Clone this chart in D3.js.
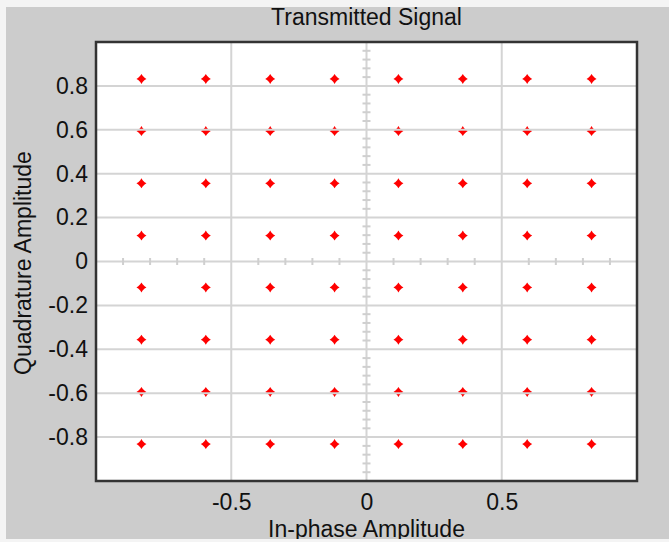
<!DOCTYPE html>
<html>
<head>
<meta charset="utf-8">
<script src="https://cdn.jsdelivr.net/npm/d3@7"></script>
<style>
  html, body { margin: 0; padding: 0; background: #f4f4f4; }
  svg { display: block; }
</style>
</head>
<body>
<svg id="chart" width="669" height="542"></svg>
<script>
// ---- data ----
const title = "Transmitted Signal";
const xLabel = "In-phase Amplitude";
const yLabel = "Quadrature Amplitude";
const inPhaseLevels = [-0.832, -0.594, -0.356, -0.118, 0.118, 0.356, 0.594, 0.832];
const quadratureLevels = [0.832, 0.594, 0.356, 0.118, -0.118, -0.356, -0.594, -0.832];
const xTicks = [-0.5, 0, 0.5];
const yTicks = [-0.8, -0.6, -0.4, -0.2, 0, 0.2, 0.4, 0.6, 0.8];
const xMinorTicks = [-0.9, -0.8, -0.7, -0.6, -0.4, -0.3, -0.2, -0.1, 0.1, 0.2, 0.3, 0.4, 0.6, 0.7, 0.8, 0.9];
const yMinorTicks = [-0.96, -0.92, -0.88, -0.84, -0.76, -0.72, -0.68, -0.64, -0.56, -0.52, -0.48, -0.44,
  -0.36, -0.32, -0.28, -0.24, -0.16, -0.12, -0.08, -0.04, 0.04, 0.08, 0.12, 0.16, 0.24, 0.28, 0.32, 0.36,
  0.44, 0.48, 0.52, 0.56, 0.64, 0.68, 0.72, 0.76, 0.84, 0.88, 0.92, 0.96];

// ---- layout ----
const svg = d3.select("#chart");
const W = 669, H = 542;
const plot = { left: 96, right: 637, top: 42, bottom: 481 };
const font = "'Liberation Sans', Arial, sans-serif";

const x = d3.scaleLinear().domain([-1, 1]).range([plot.left, plot.right]);
const y = d3.scaleLinear().domain([-1, 1]).range([plot.bottom, plot.top]);

// backgrounds
svg.append("rect").attr("x", 0).attr("y", 0).attr("width", W).attr("height", H).attr("fill", "#f4f4f4");
svg.append("rect").attr("x", 6).attr("y", 7).attr("width", W - 6).attr("height", 532).attr("fill", "#cccccc");
svg.append("rect").attr("x", plot.left).attr("y", plot.top)
  .attr("width", plot.right - plot.left).attr("height", plot.bottom - plot.top).attr("fill", "#ffffff");

// points
const points = d3.cross(inPhaseLevels, quadratureLevels, (i, q) => ({ i, q }));
const markerPath = "M0,-5L1.2,-3.2L3.2,-1.2L5,0L3.2,1.2L1.2,3.2L0,5L-1.2,3.2L-3.2,1.2L-5,0L-3.2,-1.2L-1.2,-3.2Z";
svg.append("g").selectAll("path").data(points).join("path")
  .attr("d", markerPath)
  .attr("transform", d => `translate(${x(d.i)},${y(d.q)})`)
  .attr("fill", "#ff0000");

// grid (drawn over markers, as in the reference)
const grid = svg.append("g").attr("stroke", "#d4d4d4").attr("stroke-width", 2);
grid.selectAll("line.v").data(xTicks).join("line").attr("class", "v")
  .attr("x1", d => x(d)).attr("x2", d => x(d)).attr("y1", plot.top).attr("y2", plot.bottom);
grid.selectAll("line.h").data(yTicks).join("line").attr("class", "h")
  .attr("x1", plot.left).attr("x2", plot.right).attr("y1", d => y(d)).attr("y2", d => y(d));

// minor ticks on the center lines
const minor = svg.append("g").attr("stroke", "#cfcfcf").attr("stroke-width", 2);
minor.selectAll("line.mx").data(xMinorTicks).join("line").attr("class", "mx")
  .attr("x1", d => x(d)).attr("x2", d => x(d)).attr("y1", y(0) - 3.5).attr("y2", y(0) + 3.5);
minor.selectAll("line.my").data(yMinorTicks).join("line").attr("class", "my")
  .attr("x1", x(0) - 4).attr("x2", x(0) + 4).attr("y1", d => y(d)).attr("y2", d => y(d));

// border
svg.append("rect").attr("x", plot.left).attr("y", plot.top)
  .attr("width", plot.right - plot.left).attr("height", plot.bottom - plot.top)
  .attr("fill", "none").attr("stroke", "#333333").attr("stroke-width", 2.5);

// axes
const yAxis = svg.append("g").attr("transform", `translate(${plot.left},0)`)
  .call(d3.axisLeft(y).tickValues(yTicks).tickSize(0).tickPadding(8).tickFormat(d => String(d)));
const xAxis = svg.append("g").attr("transform", `translate(0,${plot.bottom})`)
  .call(d3.axisBottom(x).tickValues(xTicks).tickSize(0).tickPadding(13).tickFormat(d => String(d)));
[xAxis, yAxis].forEach(g => {
  g.select(".domain").remove();
  g.attr("font-family", font).attr("font-size", 23);
  g.selectAll("text").attr("fill", "#111111");
});

// titles
svg.append("text").attr("x", (plot.left + plot.right) / 2).attr("y", 25)
  .attr("text-anchor", "middle").attr("font-family", font).attr("font-size", 23).attr("fill", "#111111")
  .text(title);
svg.append("text").attr("x", (plot.left + plot.right) / 2).attr("y", 537)
  .attr("text-anchor", "middle").attr("font-family", font).attr("font-size", 23).attr("fill", "#111111")
  .text(xLabel);
svg.append("text").attr("transform", `translate(31,263) rotate(-90)`)
  .attr("text-anchor", "middle").attr("font-family", font).attr("font-size", 23).attr("fill", "#111111")
  .text(yLabel);

// bottom light strip
svg.append("rect").attr("x", 0).attr("y", 539).attr("width", W).attr("height", H - 539).attr("fill", "#f4f4f4");
</script>
</body>
</html>
